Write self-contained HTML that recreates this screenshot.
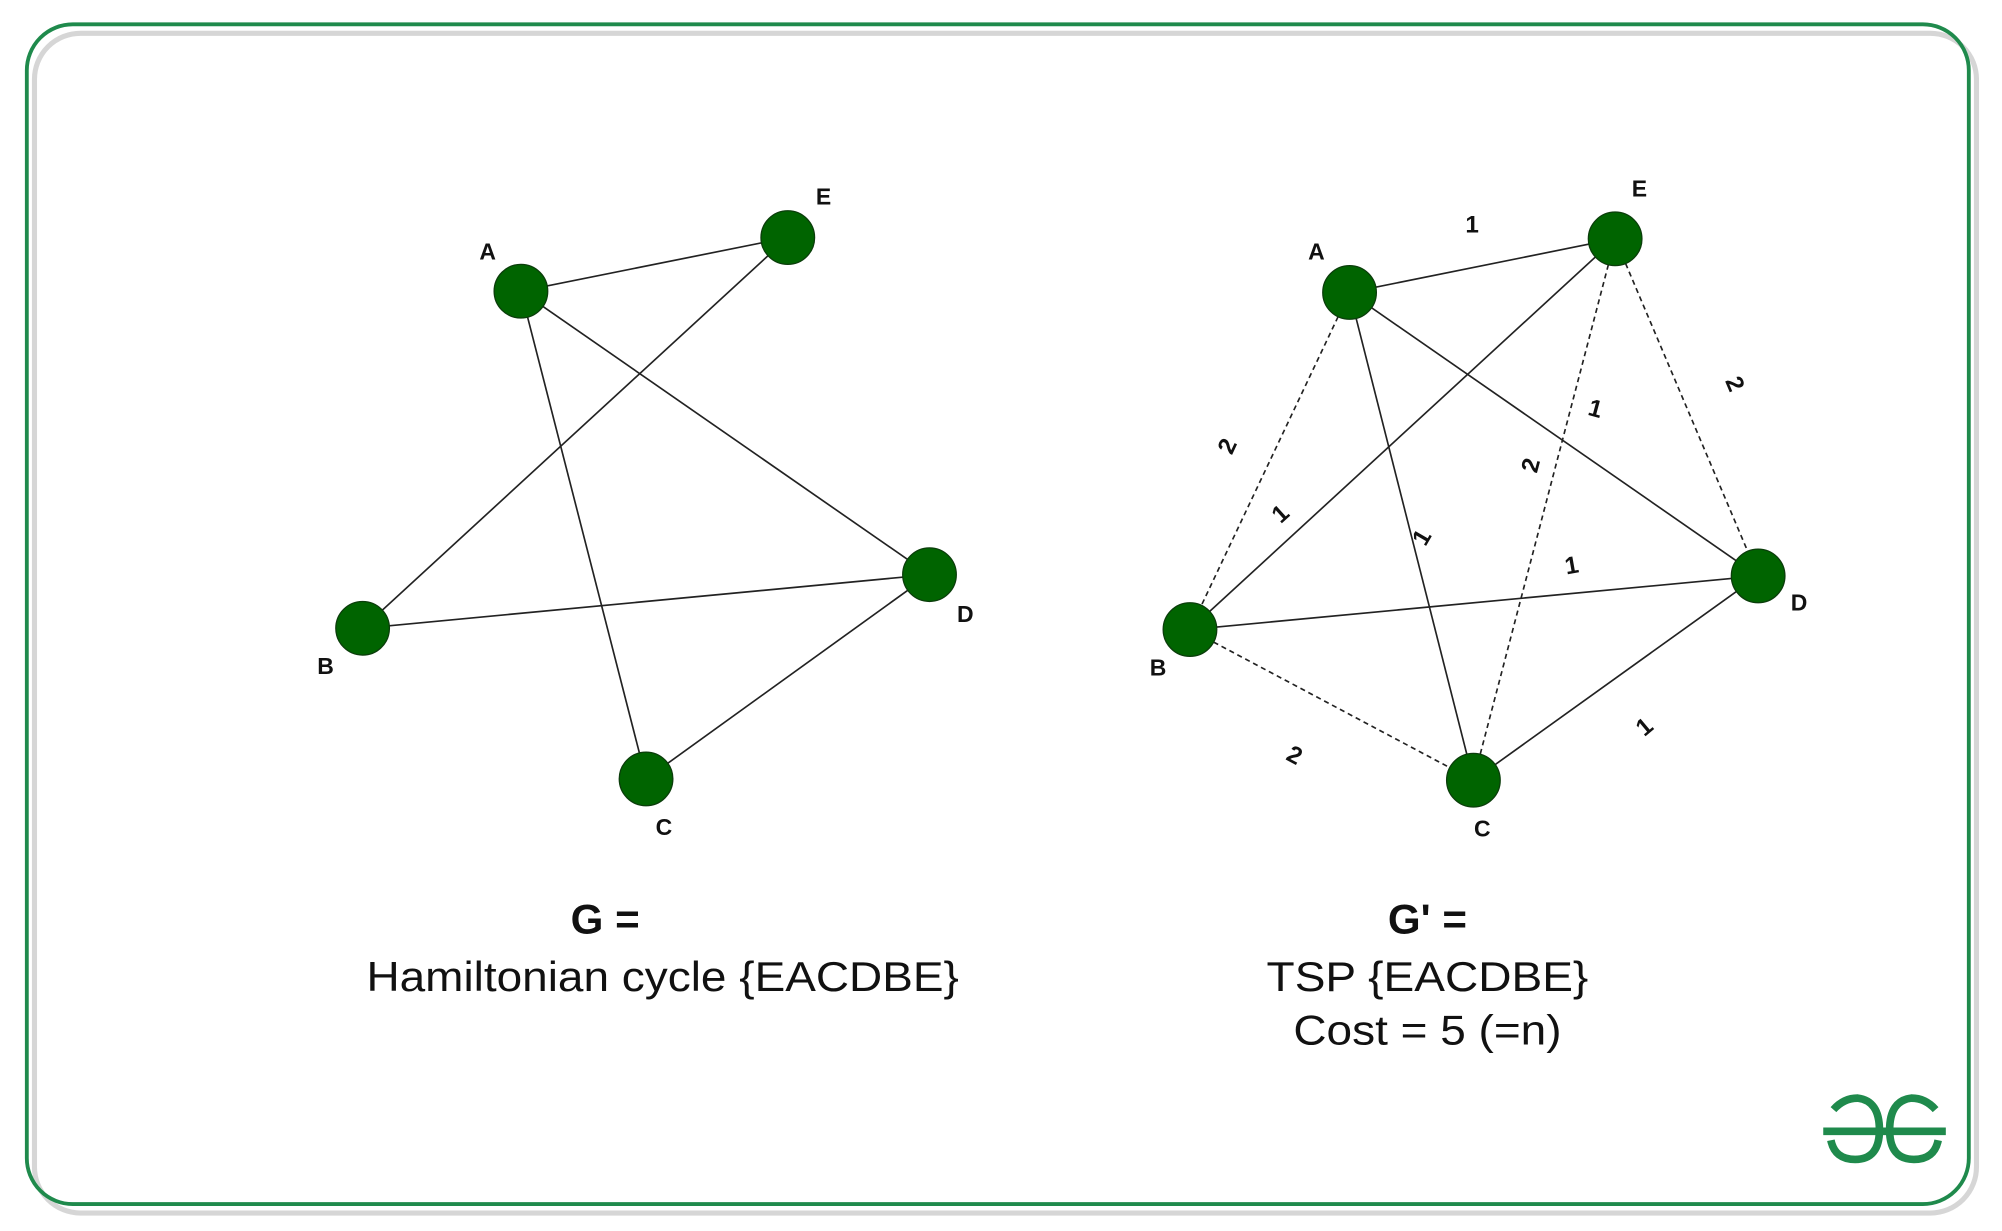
<!DOCTYPE html>
<html><head><style>
html,body{margin:0;padding:0;background:#fff;width:2002px;height:1231px;overflow:hidden}
svg{display:block}
text{font-family:"Liberation Sans",sans-serif;fill:#111}
</style></head><body>
<svg width="2002" height="1231" viewBox="0 0 1568 964" xmlns="http://www.w3.org/2000/svg">
<rect x="0" y="0" width="1568" height="964" fill="#fff"/>
<rect x="27" y="26" width="1521" height="924" rx="36" fill="none" stroke="#d6d6d6" stroke-width="4"/>
<rect x="21" y="19" width="1521" height="924" rx="36" fill="none" stroke="#1f8a4c" stroke-width="3"/>

<g stroke="#222" stroke-width="1.3" fill="none">
<line x1="408" y1="228" x2="617" y2="186"/>
<line x1="617" y1="186" x2="284" y2="492"/>
<line x1="408" y1="228" x2="506" y2="610"/>
<line x1="408" y1="228" x2="728" y2="450"/>
<line x1="284" y1="492" x2="728" y2="450"/>
<line x1="506" y1="610" x2="728" y2="450"/>

<line x1="1057" y1="229" x2="1265" y2="187"/>
<line x1="1265" y1="187" x2="932" y2="493"/>
<line x1="1057" y1="229" x2="1154" y2="611"/>
<line x1="1057" y1="229" x2="1377" y2="451"/>
<line x1="932" y1="493" x2="1377" y2="451"/>
<line x1="1154" y1="611" x2="1377" y2="451"/>
<g stroke-dasharray="4,3">
<line x1="1057" y1="229" x2="932" y2="493"/>
<line x1="1265" y1="187" x2="1154" y2="611"/>
<line x1="1265" y1="187" x2="1377" y2="451"/>
<line x1="932" y1="493" x2="1154" y2="611"/>
</g>
</g>

<g fill="#006400" stroke="#0b3d0b" stroke-width="1">
<circle cx="408" cy="228" r="21"/><circle cx="617" cy="186" r="21"/>
<circle cx="284" cy="492" r="21"/><circle cx="728" cy="450" r="21"/>
<circle cx="506" cy="610" r="21"/>
<circle cx="1057" cy="229" r="21"/><circle cx="1265" cy="187" r="21"/>
<circle cx="932" cy="493" r="21"/><circle cx="1377" cy="451" r="21"/>
<circle cx="1154" cy="611" r="21"/>
</g>

<g font-size="18" font-weight="bold" text-anchor="middle">
<text x="382" y="203">A</text><text x="645" y="160">E</text>
<text x="255" y="528">B</text><text x="756" y="487">D</text>
<text x="520" y="654">C</text>
<text x="1031" y="203">A</text><text x="1284" y="154">E</text>
<text x="907" y="529">B</text><text x="1409" y="478">D</text>
<text x="1161" y="655">C</text>
</g>

<g font-size="19" font-weight="bold" text-anchor="middle">
<text x="1153" y="182">1</text>
<text transform="translate(967,352) rotate(-65)">2</text>
<text transform="translate(1007,407) rotate(-42)">1</text>
<text transform="translate(1119,424) rotate(-60)">1</text>
<text transform="translate(1205,366) rotate(-75)">2</text>
<text transform="translate(1248,326) rotate(15)">1</text>
<text transform="translate(1353,303) rotate(67)">2</text>
<text transform="translate(1232,449) rotate(-10)">1</text>
<text transform="translate(1292,574) rotate(-40)">1</text>
<text transform="translate(1011,597) rotate(28)">2</text>
</g>

<g font-size="33" text-anchor="middle">
<text x="474" y="731" font-weight="bold">G =</text>
<text x="519" y="776" textLength="464" lengthAdjust="spacingAndGlyphs">Hamiltonian cycle {EACDBE}</text>
<text x="1118" y="731" font-weight="bold">G' =</text>
<text x="1118" y="776" textLength="252" lengthAdjust="spacingAndGlyphs">TSP {EACDBE}</text>
<text x="1118" y="818" textLength="210" lengthAdjust="spacingAndGlyphs">Cost = 5 (=n)</text>
</g>

<g fill="none" stroke="#1f8a4c" stroke-width="6">
<path d="M1436 869 Q1444 860 1455 860 Q1472 862 1472 885 Q1472 908 1453 908 Q1437 908 1434 893"/>
<path d="M1516 869 Q1508 860 1497 860 Q1480 862 1480 885 Q1480 908 1499 908 Q1515 908 1518 893"/>
<line x1="1428" y1="886" x2="1524" y2="886"/>
</g>
</svg>
</body></html>
